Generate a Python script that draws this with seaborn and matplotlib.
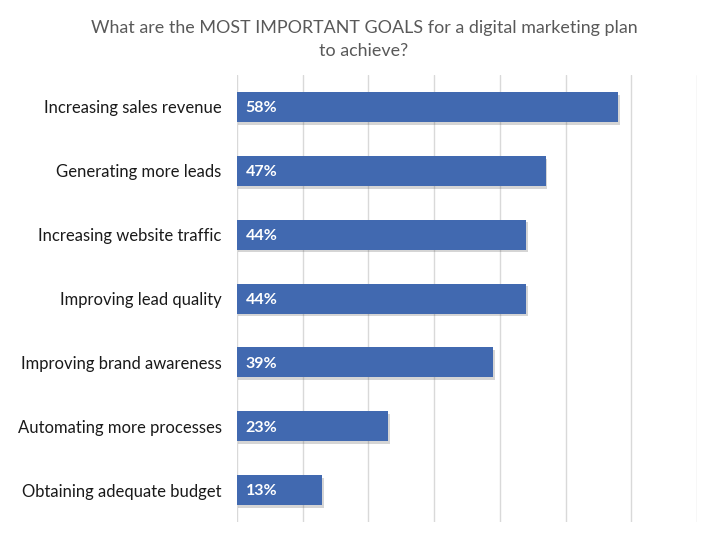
import pandas as pd
import matplotlib.pyplot as plt
import matplotlib.patheffects as pe
import seaborn as sns

goals = ['Increasing sales revenue', 'Generating more leads', 'Increasing website traffic',
         'Improving lead quality', 'Improving brand awareness', 'Automating more processes',
         'Obtaining adequate budget']
shares = [58, 47, 44, 44, 39, 23, 13]

df = pd.DataFrame({'goal': goals, 'share': shares})

sns.set_theme(style="white")
plt.rcParams['font.family'] = ['Lato', 'DejaVu Sans']

fig = plt.figure(figsize=(7.19, 5.36), dpi=100)
ax = fig.add_axes([0.3296, 0.026, 0.6398, 0.834])

sns.barplot(data=df, y='goal', x='share', color='#4169B0', saturation=1,
            width=0.47, ax=ax, orient='h', linewidth=0, edgecolor='none')

# soft drop shadow like the original
for bar in ax.patches:
    bar.set_path_effects([pe.SimplePatchShadow(offset=(1, -2), alpha=0.22, shadow_rgbFace='#444444'),
                          pe.Normal()])

for i, v in enumerate(shares):
    ax.text(1.3, i + 0.02, f'{v}%', color='white', fontweight='bold', fontsize=11.5,
            va='center', ha='left')

ax.set_xlim(0, 70)
ax.set_ylim(6.5, -0.5)
ax.set_xticks(range(0, 71, 10))
ax.set_xticklabels([])
ax.xaxis.grid(True, color='#D9D9D9', linewidth=1)
ax.set_axisbelow(True)
for s in ax.spines.values():
    s.set_visible(False)
ax.tick_params(axis='y', length=0, pad=11, labelsize=12, labelcolor='#1a1a1a')
ax.tick_params(axis='x', length=0)
ax.set_xlabel('')
ax.set_ylabel('')

fig.text(0.506, 0.927, 'What are the MOST IMPORTANT GOALS for a digital marketing plan\nto achieve?',
         ha='center', va='center', fontsize=12.9, color='#595959', linespacing=1.55)

plt.savefig('out.png', dpi=100)
plt.close()
